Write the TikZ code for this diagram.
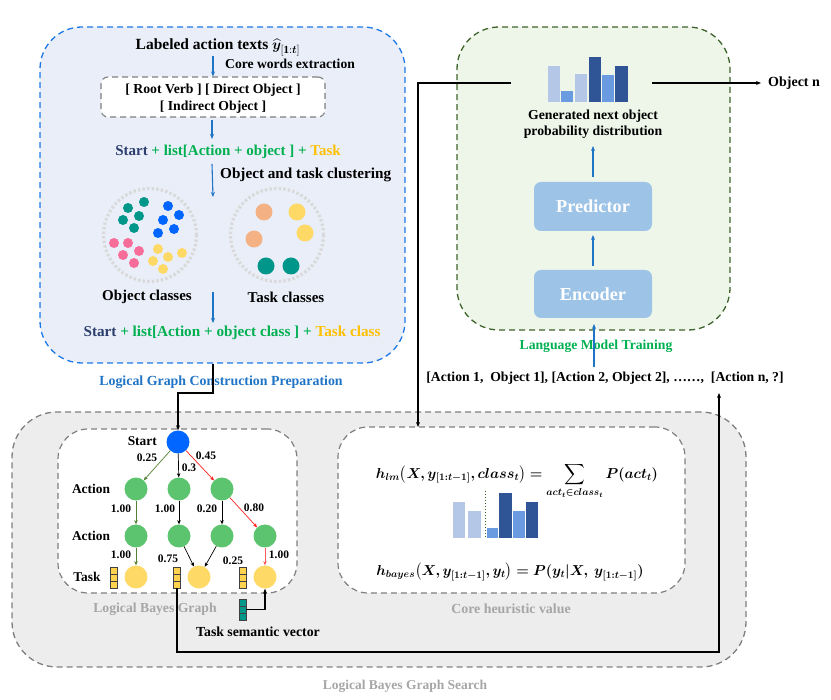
\documentclass[tikz,border=0pt]{standalone}
\usepackage{amsmath,bm}
\usepackage{fontspec}
\setmainfont{Liberation Serif}
\usetikzlibrary{arrows.meta,calc}
\definecolor{prepblue}{RGB}{30,120,230}
\definecolor{prepfill}{RGB}{233,238,248}
\definecolor{arrblue}{RGB}{31,116,198}
\definecolor{navy}{RGB}{44,62,110}
\definecolor{lgreen}{RGB}{0,176,80}
\definecolor{tyellow}{RGB}{255,192,0}
\definecolor{lmgreen}{RGB}{62,100,42}
\definecolor{lmfill}{RGB}{238,246,234}
\definecolor{predfill}{RGB}{157,195,230}
\definecolor{barlight}{RGB}{180,199,231}
\definecolor{barmid}{RGB}{106,155,224}
\definecolor{bardark}{RGB}{47,85,151}
\definecolor{bggray}{RGB}{237,237,237}
\definecolor{bdgray}{RGB}{127,127,127}
\definecolor{lblgray}{RGB}{166,166,166}
\definecolor{dteal}{RGB}{0,150,138}
\definecolor{dblue}{RGB}{0,102,255}
\definecolor{dpink}{RGB}{247,109,154}
\definecolor{dyellow}{RGB}{255,217,102}
\definecolor{dorange}{RGB}{244,177,131}
\definecolor{cgray}{RGB}{217,217,217}
\definecolor{ngreen}{RGB}{92,196,110}
\definecolor{egreen}{RGB}{84,130,53}
\definecolor{ered}{RGB}{255,30,30}
\definecolor{epink}{RGB}{255,90,90}
\definecolor{vgold}{RGB}{255,210,80}
\newcommand{\fs}[1]{\bfseries\fontsize{#1}{#1}\selectfont}
\begin{document}
\begin{tikzpicture}[x=1pt,y=-1pt,
  txt/.style={inner sep=0pt, font=\fs{13.7}},
  elbl/.style={inner sep=0pt, font=\fs{11.5}},
  glbl/.style={inner sep=0pt, font=\fs{13.4}},
  region/.style={inner sep=0pt, dashed, dash pattern=on 6pt off 4pt},
  barrow/.style={draw=arrblue, line width=1.1pt, -{Stealth[length=5pt,width=4pt]}},
  karrow/.style={draw=black, line width=1.1pt, -{Stealth[length=5pt,width=4pt]}},
  gnode/.style={circle, inner sep=0pt, minimum size=23pt},
  dotcirc/.style={circle, draw=cgray, line width=3.2pt, dash pattern=on 2.4pt off 2.2pt, minimum size=93pt, inner sep=0pt},
  gedge/.style={line width=0.7pt, -{Stealth[length=4pt,width=3.5pt,inset=1pt]}},
  vecbox/.style={draw=black!75, fill=#1, minimum width=7pt, minimum height=21pt, inner sep=0pt, line width=0.6pt,
    path picture={\draw[black!75, line width=0.5pt]
      ($(path picture bounding box.north west)!1/3!(path picture bounding box.south west)$) --
      ($(path picture bounding box.north east)!1/3!(path picture bounding box.south east)$)
      ($(path picture bounding box.north west)!2/3!(path picture bounding box.south west)$) --
      ($(path picture bounding box.north east)!2/3!(path picture bounding box.south east)$);}}
]
\useasboundingbox (0,0) rectangle (831,700);

% ---------- region boxes ----------
\node[region, draw=prepblue, line width=1.3pt, fill=prepfill, rounded corners=42pt,
  minimum width=365pt, minimum height=336pt] (prep) at (222.5,195) {};
\node[region, draw=lmgreen, line width=1.3pt, fill=lmfill, rounded corners=42pt,
  minimum width=273pt, minimum height=303pt] (lm) at (593.5,178.5) {};
\node[region, draw=bdgray, line width=1.3pt, fill=bggray, rounded corners=45pt,
  minimum width=734pt, minimum height=255pt] (search) at (379,539.5) {};
\node[region, draw=bdgray, line width=1.2pt, fill=white, rounded corners=30pt,
  minimum width=239pt, minimum height=164pt] (gbox) at (177.5,511) {};
\node[region, draw=bdgray, line width=1.2pt, fill=white, rounded corners=30pt,
  minimum width=347pt, minimum height=166pt] (core) at (511.5,510) {};

% ---------- preparation ----------
\node[inner sep=0pt, font=\fs{15.5}, anchor=base] (title) at (218,50) {Labeled action texts $\widehat{\bm{y}}_{[\mathbf{1}:\bm{t}]}$};
\node[inner sep=0pt, font=\fs{13.6}, anchor=west] (cwe) at (225,64) {Core words extraction};
\node[region, draw=bdgray, line width=1.1pt, fill=white, rounded corners=7pt,
  minimum width=224pt, minimum height=40pt] (words) at (213,97) {};
\node[inner sep=0pt, font=\fs{13.75}] (w1) at (213,90) {[ Root Verb ] [ Direct Object ]};
\node[inner sep=0pt, font=\fs{13.75}] (w2) at (213,107) {[ Indirect Object ]};
\node[inner sep=0pt, font=\fs{15}] (list1) at (228,152)
  {\textcolor{navy}{Start} \textcolor{lgreen}{+ list[Action + object ] +} \textcolor{tyellow}{Task}};
\node[inner sep=0pt, font=\fs{15.2}, anchor=west] (otc) at (220,175) {Object and task clustering};
\node[dotcirc] (objc) at (150,235) {};
\node[dotcirc] (taskc) at (277,235) {};
\foreach \x/\y in {128/208,144/202,139/216,123/220,134/228}
  \fill[dteal] (\x,\y) circle (5);
\foreach \x/\y in {168/206,179/215,163/220,174/229,158/233}
  \fill[dblue] (\x,\y) circle (5);
\foreach \x/\y in {114/243,128/243,139/251,123/255,134/263}
  \fill[dpink] (\x,\y) circle (5);
\foreach \x/\y in {158/249,168/257,182/253,153/261,163/269}
  \fill[dyellow] (\x,\y) circle (5);
\fill[dorange] (264,212) circle (8.5);
\fill[dorange] (254,239) circle (8.5);
\fill[dyellow] (297,212) circle (8.5);
\fill[dyellow] (305,233) circle (8.5);
\fill[dteal] (266,266) circle (8.5);
\fill[dteal] (291,266) circle (8.5);
\node[inner sep=0pt, font=\fs{15}] (objl) at (147,297) {Object classes};
\node[inner sep=0pt, font=\fs{15}] (taskl) at (286,297) {Task classes};
\node[inner sep=0pt, font=\fs{15.2}] (list2) at (232,333)
  {\textcolor{navy}{Start} \textcolor{lgreen}{+ list[Action + object class ] +} \textcolor{tyellow}{Task class}};
\node[inner sep=0pt, font=\fs{13.9}, text=arrblue] (prepl) at (221,382) {Logical Graph Construction Preparation};

\coordinate (a3s) at (213,292);
\coordinate (clus) at (213,197);
\draw[barrow] (213,56) -- (words.north -| 213,0);
\draw[barrow] (words.south -| 212,0) ++(0,2) -- (212,139);
\draw[barrow] (212,164) -- (clus);
\draw[barrow] (a3s) -- (213,323);

% ---------- language model ----------
\fill[barlight] (547.7,65.7) rectangle (560,101.7);
\fill[barmid]   (561.3,91.3) rectangle (573.3,101.7);
\fill[barlight] (574.7,74) rectangle (587.3,101.7);
\fill[bardark]  (588.7,56.7) rectangle (600.7,101.7);
\fill[barmid]   (602,74.7) rectangle (614,101.7);
\fill[bardark]  (615.3,66) rectangle (627.7,101.7);
\node[inner sep=0pt, font=\fs{13.75}] (gen1) at (593,116) {Generated next object};
\node[inner sep=0pt, font=\fs{13.75}] (gen2) at (593,132) {probability distribution};
\node[fill=predfill, rounded corners=7pt, minimum width=118pt, minimum height=49pt, inner sep=0pt,
  text=white, font=\fs{18.3}] (pred) at (593,206.5) {Predictor};
\node[fill=predfill, rounded corners=7pt, minimum width=118pt, minimum height=48pt, inner sep=0pt,
  text=white, font=\fs{18.3}] (enc) at (593,294) {Encoder};
\node[txt, text=lgreen] (lmt) at (596,346) {Language Model Training};
\node[txt] (seq) at (605,378)
  {[Action 1,\ \ Object 1], [Action 2, Object 2], ……,\ \ [Action n, ?]};
\node[inner sep=0pt, font=\fs{14}, anchor=west] (objn) at (768,83) {Object n};

\draw[barrow] (593,177) -- (593,146);
\draw[barrow] (593,266) -- (593,235);
\draw[barrow] (594,367) -- (594,324);

\coordinate (distL) at (511,83);
\coordinate (distR) at (652,83);
\coordinate (coreIn) at (418,427);
\draw[karrow] (distL) -| (coreIn);
\draw[karrow] (distR) -- ($(objn.west)+(-7,0)$);

% ---------- logical Bayes graph ----------
\node[gnode, fill=dblue] (s) at (178,442) {};
\node[glbl, anchor=east] (sl) at (157,441) {Start};
\node[gnode, fill=ngreen] (a1) at (136,489) {};
\node[gnode, fill=ngreen] (a2) at (179,489) {};
\node[gnode, fill=ngreen] (a3) at (222,489) {};
\node[gnode, fill=ngreen] (b1) at (136,536) {};
\node[gnode, fill=ngreen] (b2) at (179,536) {};
\node[gnode, fill=ngreen] (b3) at (222,536) {};
\node[gnode, fill=ngreen] (b4) at (265,536) {};
\node[gnode, fill=dyellow] (t1) at (136,577) {};
\node[gnode, fill=dyellow] (t2) at (199,577) {};
\node[gnode, fill=dyellow] (t3) at (265,577) {};
\node[glbl] (al1) at (91,489) {Action};
\node[glbl] (al2) at (91,536) {Action};
\node[glbl] (tl) at (87,577) {Task};
\node[vecbox=vgold] (v1) at (114,577.5) {};
\node[vecbox=vgold] (v2) at (177,577.5) {};
\node[vecbox=vgold] (v3) at (242.5,577.5) {};
\node[vecbox=dteal] (tv) at (242.5,609.5) {};
\node[inner sep=0pt, font=\fs{13.8}] (tsv) at (258,632) {Task semantic vector};

\draw[gedge, egreen] (s) -- (a1);
\draw[gedge, black] (s) -- (a2);
\draw[gedge, ered] (s) -- (a3);
\draw[gedge, egreen] (a1) -- (b1);
\draw[gedge, black] (a2) -- (b2);
\draw[gedge, black] (a3) -- (b3);
\draw[gedge, ered] (a3) -- (b4);
\draw[gedge, egreen] (b1) -- (t1);
\draw[gedge, black] (b2) -- (t2);
\draw[gedge, black] (b3) -- (t2);
\draw[gedge, epink] (b4) -- (t3);
\node[elbl] (e1) at (147,458) {0.25};
\node[elbl] (e2) at (189,468) {0.3};
\node[elbl] (e3) at (206,456) {0.45};
\node[elbl] (e4) at (121,509) {1.00};
\node[elbl] (e5) at (165,509) {1.00};
\node[elbl] (e6) at (207,509) {0.20};
\node[elbl] (e7) at (254,508) {0.80};
\node[elbl] (e8) at (121,555) {1.00};
\node[elbl] (e9) at (168,559) {0.75};
\node[elbl] (e10) at (233,561) {0.25};
\node[elbl] (e11) at (279,555) {1.00};
\draw[karrow] (tv.east) -| (t3.south);

% ---------- core heuristic ----------
\node[inner sep=0pt, font=\fontsize{14.5}{16}\selectfont] (f1) at (517,481)
  {$\bm{h_{lm}\bigl(X, y_{[1:t-1]}, class_t\bigr) =} \displaystyle\sum_{\bm{act_t\in class_t}} \bm{P(act_t)}$};
\fill[barlight] (452.7,502.3) rectangle (465.3,538);
\fill[barlight] (468,510.7) rectangle (480.7,538);
\draw[lmgreen, line width=1pt, dotted] (485,490.7) -- (485,538);
\fill[barmid]   (486.7,527.7) rectangle (498,538);
\fill[bardark]  (499.3,493.3) rectangle (511.7,538);
\fill[barmid]   (512.7,511) rectangle (525,538);
\fill[bardark]  (526,502.3) rectangle (538.3,538);
\node[inner sep=0pt, font=\fontsize{14}{16}\selectfont] (f2) at (510,572)
  {$\bm{h_{bayes}\bigl(X, y_{[1:t-1]}, y_t\bigr) = P(y_t|X,\ y_{[1:t-1]})}$};

% ---------- labels ----------
\node[inner sep=0pt, font=\fs{13.7}, text=lblgray] (gl) at (155,609) {Logical Bayes Graph};
\node[inner sep=0pt, font=\fs{13.9}, text=lblgray] (cl) at (511,609) {Core heuristic value};
\node[inner sep=0pt, font=\fs{13.5}, text=lblgray] (sl2) at (405,686) {Logical Bayes Graph Search};

% ---------- long connectors ----------
\coordinate (pj) at (213,393);
\draw[karrow] (prep.south -| pj) -- (pj) -| (s.north);
\coordinate (lc) at (177,652);
\coordinate (seqend) at (719,393);
\draw[karrow] (v2.south) -- (lc) -| (seqend);
\end{tikzpicture}
\end{document}
